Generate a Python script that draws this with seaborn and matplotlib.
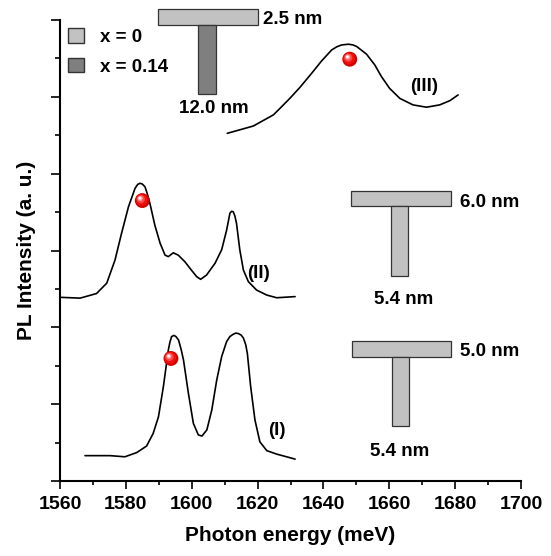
import matplotlib
matplotlib.use("Agg")
import matplotlib.pyplot as plt
import matplotlib.transforms as mtransforms
from matplotlib.patches import Rectangle, Patch
from matplotlib.ticker import MultipleLocator, NullFormatter
import pandas as pd
import seaborn as sns

# ---- PL spectra: photon energy (meV) and intensity (a. u., vertically offset) ----
energy_I = [1567.6, 1575.2, 1579.7, 1583.3, 1586.3, 1588.3, 1589.9, 1591.4, 1592.9,
            1593.4, 1593.9, 1594.6, 1595.2, 1596.0, 1596.8, 1597.5, 1599.0, 1600.5,
            1602.0, 1603.1, 1604.6, 1606.1, 1607.6, 1609.1, 1610.6, 1611.6, 1612.6,
            1613.4, 1614.1, 1615.0, 1615.7, 1616.4, 1616.9, 1617.9, 1619.2, 1620.7,
            1622.8, 1625.8, 1631.4]
intensity_I = [0.66, 0.66, 0.63, 0.74, 0.91, 1.24, 1.67, 2.46, 3.41,
               3.62, 3.76, 3.79, 3.76, 3.67, 3.42, 3.15, 2.28, 1.50,
               1.20, 1.17, 1.33, 1.85, 2.63, 3.24, 3.63, 3.76, 3.82,
               3.85, 3.84, 3.80, 3.72, 3.55, 3.32, 2.46, 1.59, 1.02,
               0.79, 0.70, 0.57]

energy_II = [1560.5, 1566.1, 1571.1, 1574.2, 1576.7, 1578.7, 1580.8, 1582.8, 1583.6,
             1584.3, 1585.0, 1585.8, 1586.5, 1587.3, 1588.8, 1590.4, 1591.9, 1592.9,
             1594.4, 1595.9, 1597.9, 1599.9, 1601.5, 1602.7, 1604.5, 1607.1, 1609.1,
             1610.6, 1611.6, 1612.1, 1612.6, 1613.1, 1613.6, 1614.6, 1615.7, 1617.2,
             1619.7, 1622.8, 1625.8, 1631.4]
intensity_II = [4.78, 4.76, 4.88, 5.15, 5.75, 6.45, 7.14, 7.62, 7.72,
                7.75, 7.73, 7.66, 7.48, 7.23, 6.66, 6.19, 5.88, 5.84,
                5.94, 5.88, 5.71, 5.49, 5.32, 5.25, 5.36, 5.67, 6.02,
                6.53, 6.97, 7.02, 7.01, 6.90, 6.71, 6.02, 5.49, 5.19,
                4.97, 4.84, 4.77, 4.80]

energy_III = [1610.8, 1618.7, 1624.8, 1626.8, 1629.8, 1632.9, 1636.4, 1639.4, 1642.5,
              1644.0, 1645.5, 1647.6, 1649.0, 1650.1, 1653.1, 1655.6, 1657.6, 1660.1,
              1663.2, 1667.2, 1671.3, 1675.3, 1678.4, 1680.9]
intensity_III = [9.05, 9.24, 9.53, 9.70, 9.96, 10.25, 10.61, 10.93, 11.22,
                 11.30, 11.35, 11.37, 11.35, 11.31, 11.11, 10.83, 10.53, 10.22,
                 9.96, 9.79, 9.73, 9.79, 9.90, 10.05]

# Marked transition energies on each spectrum
peak_energy = [1593.7, 1585.0, 1648.0]
peak_intensity = [3.19, 7.30, 10.98]

spectrum_names = ["(I)", "(II)", "(III)"]
composition_labels = ["x = 0", "x = 0.14"]
top_widths = ["5.0 nm", "6.0 nm", "2.5 nm"]
stem_widths = ["5.4 nm", "5.4 nm", "12.0 nm"]

LIGHT = "#c2c2c2"
DARK = "#7f7f7f"

sns.set_theme(style="ticks")
plt.rcParams["font.family"] = ["Liberation Sans", "DejaVu Sans"]
plt.rcParams["font.weight"] = "bold"
plt.rcParams.update({"text.color": "black", "axes.labelcolor": "black",
                     "xtick.color": "black", "ytick.color": "black",
                     "axes.edgecolor": "black"})

fig = plt.figure(figsize=(5.51, 5.56), dpi=100)
ax = fig.add_axes([60 / 551, 75 / 556, 461 / 551, 461 / 556])

frames = []
for name, e, i in [("I", energy_I, intensity_I),
                   ("II", energy_II, intensity_II),
                   ("III", energy_III, intensity_III)]:
    frames.append(pd.DataFrame({"energy": e, "intensity": i, "spectrum": name}))
spectra = pd.concat(frames, ignore_index=True)

sns.lineplot(data=spectra, x="energy", y="intensity", units="spectrum",
             estimator=None, sort=False, color="black", lw=1.2, ax=ax,
             solid_joinstyle="round", solid_capstyle="round")

# red spheres marking the peaks
peaks = pd.DataFrame({"energy": peak_energy, "intensity": peak_intensity})
sns.scatterplot(data=peaks, x="energy", y="intensity", s=115, color="#d40000",
                edgecolor="none", ax=ax, zorder=5)
for dx, size, col in [(-0.6, 72, "#f01010"), (-1.1, 34, "#ff4a4a"),
                      (-1.5, 13, "#ffa0a0"), (-1.7, 4, "#ffffff")]:
    off = mtransforms.offset_copy(ax.transData, fig=fig, x=dx, y=-dx, units="points")
    ax.scatter(peak_energy, peak_intensity, s=size, color=col, edgecolor="none",
               transform=off, zorder=6)

# spectrum labels
for name, (x, y) in zip(spectrum_names, [(1626.0, 1.31), (1620.2, 5.41), (1670.7, 10.28)]):
    ax.text(x, y, name, ha="center", va="center", fontsize=13.5, fontweight="bold")


def draw_t(x0, ytop, stem_color, top_label, top_label_xy, stem_label, stem_label_xy):
    bar_w, bar_h = 30.2, 0.40
    stem_off, stem_w, stem_h = 12.1, 5.3, 1.81
    ax.add_patch(Rectangle((x0, ytop - bar_h), bar_w, bar_h, facecolor=LIGHT,
                           edgecolor="#333333", lw=0.9, clip_on=False, zorder=3))
    ax.add_patch(Rectangle((x0 + stem_off, ytop - bar_h - stem_h), stem_w, stem_h,
                           facecolor=stem_color, edgecolor="#333333", lw=0.9,
                           clip_on=False, zorder=3))
    ax.text(*top_label_xy, top_label, ha="left", va="center", fontsize=13.5,
            fontweight="bold", clip_on=False)
    ax.text(*stem_label_xy, stem_label, ha="center", va="center", fontsize=13.5,
            fontweight="bold", clip_on=False)


draw_t(1648.6, 3.64, LIGHT, top_widths[0], (1681.6, 3.37), stem_widths[0], (1663.2, 0.76))
draw_t(1648.4, 7.55, LIGHT, top_widths[1], (1681.6, 7.24), stem_widths[1], (1664.3, 4.73))
draw_t(1589.85, 12.28, DARK, top_widths[2], (1621.6, 12.02), stem_widths[2], (1606.8, 9.70))

# axes
ax.set_xlim(1560, 1700)
ax.set_ylim(0, 12)
ax.xaxis.set_major_locator(MultipleLocator(20))
ax.xaxis.set_minor_locator(MultipleLocator(10))
ax.yaxis.set_major_locator(MultipleLocator(2))
ax.yaxis.set_minor_locator(MultipleLocator(1))
ax.yaxis.set_major_formatter(NullFormatter())
ax.tick_params(axis="x", which="major", direction="out", length=6, width=1.2,
               labelsize=14, pad=5, color="black", labelcolor="black")
ax.tick_params(axis="x", which="minor", direction="out", length=3, width=1.2, color="black")
ax.tick_params(axis="y", which="major", direction="out", length=6.5, width=1.2, color="black")
ax.tick_params(axis="y", which="minor", direction="out", length=3.5, width=1.2, color="black")
for lab in ax.get_xticklabels():
    lab.set_fontweight("bold")
for side in ["top", "right"]:
    ax.spines[side].set_visible(False)
for side in ["left", "bottom"]:
    ax.spines[side].set_linewidth(1.5)
    ax.spines[side].set_color("black")

ax.set_xlabel("Photon energy (meV)", fontsize=15, fontweight="bold", labelpad=9,
              color="black")
ax.set_ylabel("PL Intensity (a. u.)", fontsize=15, fontweight="bold", labelpad=7,
              color="black")

handles = [Patch(facecolor=LIGHT, edgecolor="#333333", lw=1.0),
           Patch(facecolor=DARK, edgecolor="#333333", lw=1.0)]
leg = ax.legend(handles=handles, labels=composition_labels, loc="upper left",
                bbox_to_anchor=(0.018, 0.982), frameon=False, fontsize=13.5,
                handlelength=0.82, handleheight=0.82, handletextpad=0.85,
                labelspacing=0.62, borderpad=0.0, borderaxespad=0.0)
for t in leg.get_texts():
    t.set_color("black")

fig.savefig("out.png", dpi=100)
